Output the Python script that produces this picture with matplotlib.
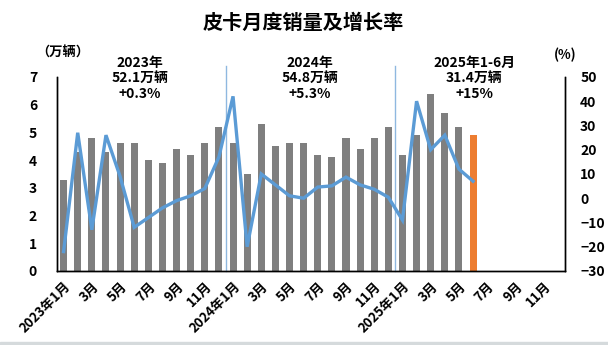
import matplotlib.pyplot as plt
import matplotlib.transforms as mtransforms
import numpy as np

plt.rcParams['font.family'] = ['Noto Sans CJK SC', 'DejaVu Sans']
plt.rcParams['font.weight'] = 'bold'

# monthly data, Jan 2023 .. Jun 2025 (axis runs to Dec 2025)
sales = [3.3, 4.3, 4.8, 4.3, 4.6, 4.6, 4.0, 3.9, 4.4, 4.2, 4.6, 5.2,
         4.6, 3.5, 5.3, 4.5, 4.6, 4.6, 4.2, 4.1, 4.8, 4.4, 4.8, 5.2,
         4.2, 4.9, 6.4, 5.7, 5.2, 4.9]
growth = [-22, 27, -13, 26, 9, -12, -8, -4, -1, 1, 4, 17,
          42, -20, 10, 5.5, 1, 0, 4.6, 5.1, 8.7, 5.5, 3.7, 0.4,
          -9, 40, 20, 26, 12, 7]
n_months = 36
tick_labels = ['2023年1月', '3月', '5月', '7月', '9月', '11月',
               '2024年1月', '3月', '5月', '7月', '9月', '11月',
               '2025年1月', '3月', '5月', '7月', '9月', '11月']
year_notes = ['2023年\n52.1万辆\n+0.3%', '2024年\n54.8万辆\n+5.3%', '2025年1-6月\n31.4万辆\n+15%']
note_x = [5.4, 17.45, 29.1]

fig = plt.figure(figsize=(6.08, 3.45), dpi=100)
ax = fig.add_axes([0.093, 0.2145, 0.836, 0.5625])
ax2 = ax.twinx()

x = np.arange(len(sales))
colors = ['#7f7f7f'] * (len(sales) - 1) + ['#ed7d31']
ax.bar(x, sales, width=0.5, color=colors, zorder=2)
ax2.plot(x, growth, color='#5b9bd5', lw=2.4, solid_joinstyle='miter', zorder=3)

ax.set_xlim(-0.5, n_months - 0.5)
ax.set_ylim(0, 7)
ax2.set_ylim(-30, 50)
ax.set_yticks(range(0, 8))
ax2.set_yticks(range(-30, 51, 10))
ax.set_xticks(range(0, n_months, 2))
ax.set_xticklabels(tick_labels, rotation=45, ha='right', rotation_mode='anchor', fontsize=9.5)

ax.tick_params(axis='y', length=0, pad=14, labelsize=10)
ax2.tick_params(axis='y', length=0, pad=11, labelsize=10)
ax.tick_params(axis='x', length=0, pad=6)

for a in (ax, ax2):
    a.spines['top'].set_visible(False)
    for s in ('left', 'right', 'bottom'):
        a.spines[s].set_linewidth(1.0)
        a.spines[s].set_color('black')
ax2.set_zorder(ax.get_zorder() + 1)
ax2.patch.set_visible(False)

# year separators
trans = mtransforms.blended_transform_factory(ax.transData, ax.transAxes)
for xs in (11.5, 23.5):
    ax.plot([xs, xs], [0, 1.057], color='#8fb8e0', lw=1.0, transform=trans, clip_on=False, zorder=1)

for xt, note in zip(note_x, year_notes):
    ax.text(xt, 1.11, note, transform=trans, ha='center', va='top', fontsize=10,
            fontweight='bold', linespacing=1.15)

fig.text(0.104, 0.846, '（万辆）', ha='center', va='center', fontsize=9.5, fontweight='bold')
fig.text(0.929, 0.84, '(%)', ha='center', va='center', fontsize=9.5, fontweight='bold')
fig.text(0.498, 0.936, '皮卡月度销量及增长率', ha='center', va='center', fontsize=14.5, fontweight='bold')

fig.patches.append(plt.Rectangle((0, 0), 1, 0.008, transform=fig.transFigure, color='#d5dadc'))

fig.savefig('out.png', dpi=100)
